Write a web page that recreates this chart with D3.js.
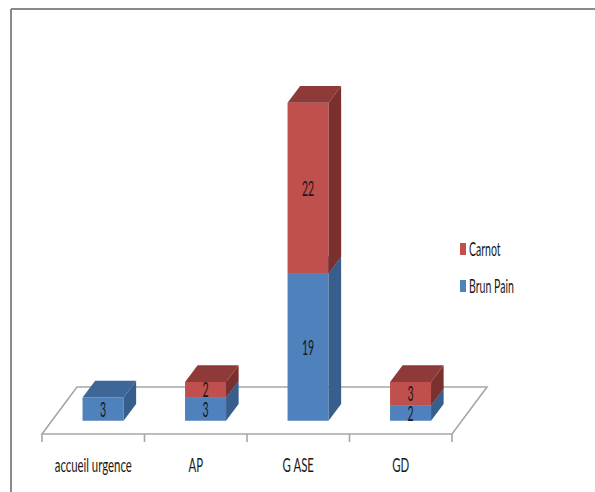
<!DOCTYPE html>
<html>
<head>
<meta charset="utf-8">
<script src="https://cdn.jsdelivr.net/npm/d3@7"></script>
<style>
  html, body { margin: 0; padding: 0; background: #fff; }
  svg { display: block; }
  text { font-family: Lato, "Open Sans", sans-serif; fill: #1a1a1a; }
</style>
</head>
<body>
<svg id="chart" width="595" height="492"></svg>
<script>
// Categories and stacked series
const categories = ["accueil urgence", "AP", "G ASE", "GD"];
const seriesNames = ["Brun Pain", "Carnot"];
const brunPain = [3, 3, 19, 2];
const carnot = [0, 2, 22, 3];
const legendOrder = ["Carnot", "Brun Pain"];

const colors = {
  "Brun Pain": { front: "#4F81BD", side: "#385E8C", top: "#3E6797" },
  "Carnot":    { front: "#C0504D", side: "#7C302E", top: "#8D3A38" }
};

const svg = d3.select("#chart");
const W = 595, H = 492;

// Outer frame (top and left edges visible)
svg.append("line").attr("x1", 11).attr("y1", 9).attr("x2", W).attr("y2", 9)
  .attr("stroke", "#8a8a8a").attr("stroke-width", 2);
svg.append("line").attr("x1", 11).attr("y1", 9).attr("x2", 11).attr("y2", H)
  .attr("stroke", "#8a8a8a").attr("stroke-width", 2);

// 3D floor geometry
const floorY = 434;               // front edge of the floor
const floorX0 = 42, floorX1 = 452;
const depth = { dx: 35, dy: 47 }; // full depth vector of the floor (up-right)
const barDepth0 = 0.28, barDepth1 = 0.64; // bar occupies this depth slice

const x = d3.scaleBand().domain(categories).range([floorX0, floorX1]).padding(0);
const barWidth = x.bandwidth() * 0.4;
const y = d3.scaleLinear().domain([0, 45]).range([0, 349]);

// Floor plane
const floorPts = [
  [floorX0, floorY], [floorX1, floorY],
  [floorX1 + depth.dx, floorY - depth.dy], [floorX0 + depth.dx, floorY - depth.dy]
];
svg.append("polygon")
  .attr("points", floorPts.map(p => p.join(",")).join(" "))
  .attr("fill", "#fff").attr("stroke", "#a6a6a6").attr("stroke-width", 1.6);

// Category tick marks below the front edge
const tickXs = categories.map(c => x(c)).concat([floorX1]);
svg.selectAll(".tick").data(tickXs).join("line")
  .attr("x1", d => d).attr("x2", d => d)
  .attr("y1", floorY).attr("y2", floorY + 8)
  .attr("stroke", "#a6a6a6").attr("stroke-width", 1.6);

// Condensed text helper
function label(g, txt, px, py, size, sx, anchor) {
  g.append("text")
    .attr("transform", `translate(${px},${py}) scale(${sx},1)`)
    .attr("text-anchor", anchor || "middle")
    .attr("font-size", size)
    .text(txt);
}

// Bars
const bdx = depth.dx * (barDepth1 - barDepth0);
const bdy = depth.dy * (barDepth1 - barDepth0);
const gBars = svg.append("g");
const gLabels = svg.append("g");

categories.forEach((cat, i) => {
  const cx = x(cat) + x.bandwidth() / 2 + depth.dx * barDepth0;
  const baseY = floorY - depth.dy * barDepth0;
  const x0 = cx - barWidth / 2, x1 = cx + barWidth / 2;
  let acc = 0;
  const segs = [["Brun Pain", brunPain[i]], ["Carnot", carnot[i]]];
  segs.forEach(([name, v]) => {
    if (!v) return;
    const yb = baseY - y(acc);
    const yt = baseY - y(acc + v);
    acc += v;
    const c = colors[name];
    gBars.append("polygon")
      .attr("points", [[x0, yb], [x1, yb], [x1, yt], [x0, yt]].map(p => p.join(",")).join(" "))
      .attr("fill", c.front);
    gBars.append("polygon")
      .attr("points", [[x1, yb], [x1 + bdx, yb - bdy], [x1 + bdx, yt - bdy], [x1, yt]].map(p => p.join(",")).join(" "))
      .attr("fill", c.side);
    gBars.append("polygon")
      .attr("points", [[x0, yt], [x1, yt], [x1 + bdx, yt - bdy], [x0 + bdx, yt - bdy]].map(p => p.join(",")).join(" "))
      .attr("fill", c.top);
    label(gLabels, String(v), cx, (yb + yt) / 2 + 7.5, 21, 0.5);
  });
});

// Category labels
categories.forEach(cat => {
  label(svg, cat, x(cat) + x.bandwidth() / 2, 472, 20, 0.57);
});

// Legend
const legend = svg.append("g");
legendOrder.forEach((name, i) => {
  const ly = 243 + i * 37;
  legend.append("rect").attr("x", 460).attr("y", ly).attr("width", 6).attr("height", 12)
    .attr("fill", colors[name].front);
  label(legend, name, 469, ly + 12.5, 18.5, 0.57, "start");
});
</script>
</body>
</html>
